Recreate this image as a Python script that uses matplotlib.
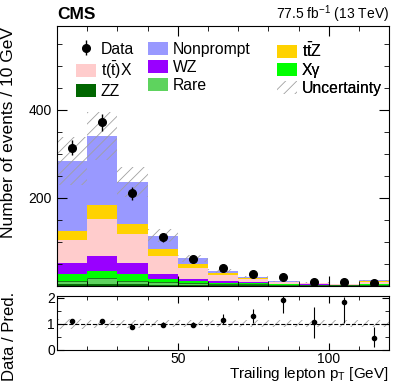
import numpy as np
import matplotlib.pyplot as plt
from matplotlib.patches import Patch

plt.rcParams['font.family'] = ['Liberation Sans', 'DejaVu Sans']
plt.rcParams['mathtext.fontset'] = 'custom'
plt.rcParams['mathtext.rm'] = 'Liberation Sans'
plt.rcParams['mathtext.it'] = 'Liberation Sans:italic'
plt.rcParams['mathtext.bf'] = 'Liberation Sans:bold'
plt.rcParams['hatch.linewidth'] = 0.6

# binning in trailing lepton pT [GeV]
bin_edges = np.arange(10, 121, 10)

# stacked backgrounds (bottom -> top)
zz = [4, 4, 4, 3, 2, 2, 1.5, 1, 1, 0.6, 1]
rare = [7, 13, 7, 6, 5, 3, 2.5, 1.5, 1.5, 1.2, 2]
xgamma = [16, 18, 16, 7, 4, 2.5, 2, 1, 0.6, 0.3, 1]
wz = [25, 33, 25, 11, 5, 3.5, 4, 1.5, 1, 0.5, 1.5]
ttx = [52, 84, 66, 42, 24, 14, 6, 3, 2, 1, 3]
ttz = [20, 32, 22, 14, 9, 5, 2, 1, 0.5, 0.3, 2.3]
nonprompt = [160, 156, 96, 31, 14, 4.5, 3, 1.5, 1, 0.5, 2]

data = [314, 372, 210, 110, 61, 40, 27, 20, 8, 8, 6]
unc_rel = [0.19, 0.16, 0.14, 0.13, 0.13, 0.13, 0.13, 0.13, 0.13, 0.13, 0.13]
ratio_err_lo = [0.06, 0.06, 0.06, 0.09, 0.1, 0.18, 0.25, 0.5, 0.6, 0.77, 0.37]
ratio_err_hi = [0.06, 0.06, 0.06, 0.09, 0.1, 0.2, 0.28, 0.5, 0.6, 0.2, 0.41]

processes = [
    ('ZZ', zz, '#006600'),
    ('Rare', rare, '#5ed35e'),
    ('Xγ', xgamma, '#00ff00'),
    ('WZ', wz, '#9900ff'),
    (r't($\bar{\mathrm{t}}$)X', ttx, '#ffcccc'),
    (r't$\bar{\mathrm{t}}$Z', ttz, '#ffd200'),
    ('Nonprompt', nonprompt, '#9999ff'),
]

centers = 0.5 * (bin_edges[1:] + bin_edges[:-1])
width = np.diff(bin_edges)

fig = plt.figure(figsize=(4.07, 3.88), dpi=100)
ax = fig.add_axes([0.140, 0.263, 0.816, 0.670])
rax = fig.add_axes([0.140, 0.098, 0.816, 0.140])

bottom = np.zeros(len(centers))
handles = {}
for name, vals, color in processes:
    vals = np.array(vals, dtype=float)
    edge = '#006600' if name == 'Rare' else color
    ax.bar(centers, vals, width=width, bottom=bottom, color=color,
           edgecolor=edge, linewidth=0.6 if name == 'Rare' else 0)
    handles[name] = Patch(facecolor=color, edgecolor=color, linewidth=0)
    bottom += vals

pred = bottom
unc = pred * np.array(unc_rel)
ax.bar(centers, 2 * unc, width=width, bottom=pred - unc, facecolor='none',
       edgecolor='#a0a0a0', hatch='///', linewidth=0)
h_unc = Patch(facecolor='white', edgecolor='#a0a0a0', hatch='///', linewidth=0)

data = np.array(data, dtype=float)
h_data = ax.errorbar(centers, data, yerr=np.sqrt(data), fmt='o', color='black',
                     ms=5.5, elinewidth=1, capsize=0)

ax.set_xlim(10, 120)
ax.set_ylim(0, 590)
ax.set_yticks([200, 400])
ax.set_yticks(np.arange(50, 590, 50), minor=True)
ax.set_xticks([50, 100])
ax.set_xticks(np.arange(10, 121, 10), minor=True)
ax.tick_params(axis='x', labelbottom=False)
ax.tick_params(which='both', direction='in', top=True, right=True, labelsize=10)
ax.tick_params(which='major', length=7)
ax.tick_params(which='minor', length=3.6)

leg_kw = dict(frameon=False, borderpad=0, borderaxespad=0, handlelength=1.27,
              handleheight=0.9, handletextpad=0.3, labelspacing=0.2,
              loc='upper left', fontsize=11.3)
cols = [
    ([h_data, handles[r't($\bar{\mathrm{t}}$)X'], handles['ZZ']],
     ['Data', r't($\bar{\mathrm{t}}$)X', 'ZZ'], 0.057),
    ([handles['Nonprompt'], handles['WZ'], handles['Rare']],
     ['Nonprompt', 'WZ', 'Rare'], 0.274),
    ([handles[r't$\bar{\mathrm{t}}$Z'], handles['Xγ'], h_unc],
     [r't$\bar{\mathrm{t}}$Z', 'Xγ', 'Uncertainty'], 0.663),
]
for hs, labels, x0 in cols:
    leg = ax.legend(hs, labels, bbox_to_anchor=(x0, 0.94), **leg_kw)
    ax.add_artist(leg)

# ratio panel
ratio = data / pred
rax.bar(centers, 2 * np.array(unc_rel), width=width, bottom=1 - np.array(unc_rel),
        facecolor='none', edgecolor='#a0a0a0', hatch='///', linewidth=0)
rax.axhline(1, color='black', ls='--', lw=0.8)
rax.errorbar(centers, ratio, yerr=[ratio_err_lo, ratio_err_hi], fmt='o',
             color='black', ms=3, elinewidth=0.8, capsize=0)
rax.set_xlim(10, 120)
rax.set_ylim(0, 2.08)
rax.set_yticks([0, 1, 2])
rax.set_yticks([0.5, 1.5], minor=True)
rax.set_xticks([50, 100])
rax.set_xticks(np.arange(10, 121, 10), minor=True)
rax.tick_params(which='both', direction='in', top=True, right=True, labelsize=10, pad=1.5)
rax.tick_params(which='major', length=5)
rax.tick_params(which='minor', length=3)

fig.text(57 / 407, 1 - 19 / 388, 'CMS', weight='bold', fontsize=12.5,
         ha='left', va='baseline')
fig.text(389 / 407, 1 - 19 / 388, r'77.5 fb$^{-1}$ (13 TeV)', fontsize=10,
         ha='right', va='baseline')
fig.text(9 / 407, 1 - 27 / 388, 'Number of events / 10 GeV', rotation=90,
         fontsize=12.5, ha='center', va='top')
fig.text(10 / 407, 1 - 336 / 388, 'Data / Pred.', rotation=90,
         fontsize=12, ha='center', va='center')
fig.text(389 / 407, 1 - 378 / 388, r'Trailing lepton p$_\mathrm{T}$ [GeV]',
         fontsize=11, ha='right', va='baseline')

fig.savefig('out.png', dpi=100)
